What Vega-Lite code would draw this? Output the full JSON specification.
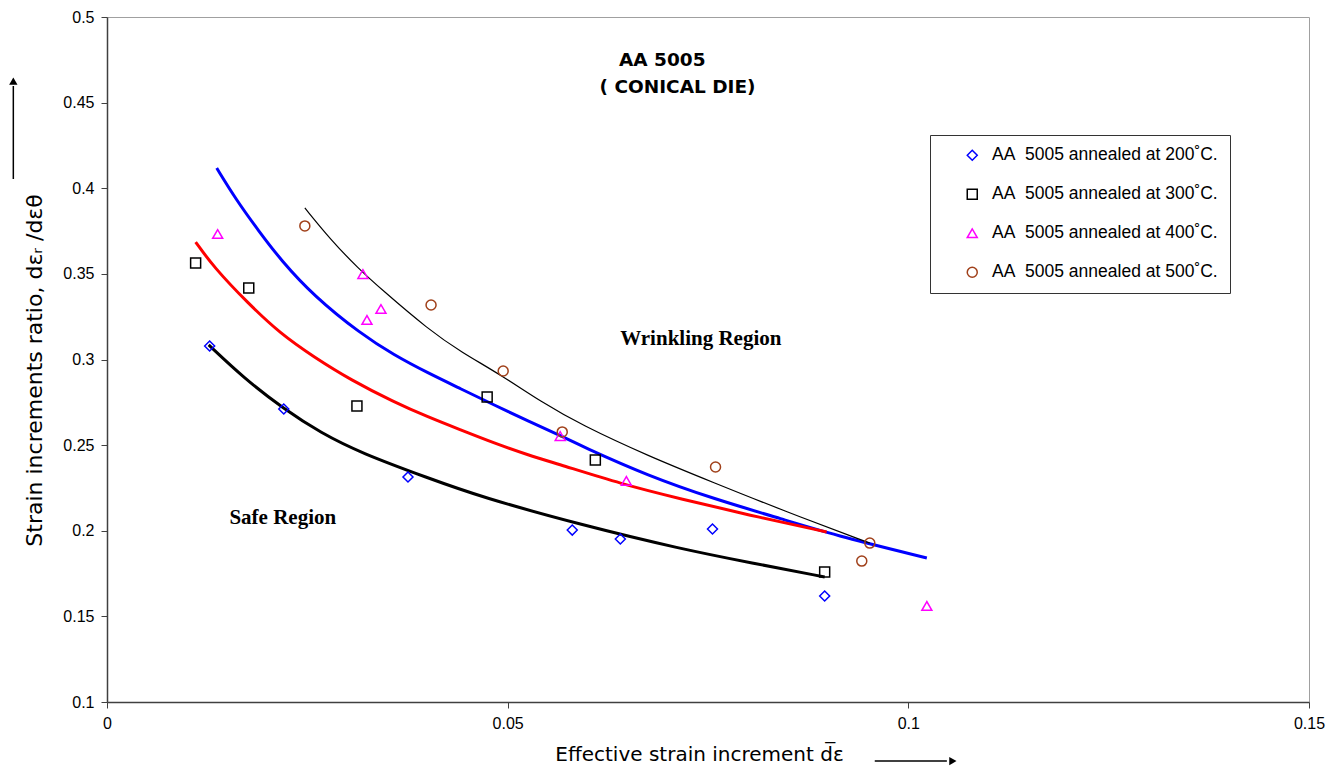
{
  "$schema": "https://vega.github.io/schema/vega-lite/v6.json",
  "width": 1202,
  "height": 685,
  "autosize": {"type": "none"},
  "padding": {"left": 107, "top": 17, "right": 28, "bottom": 67},
  "background": "white",
  "config": {
    "view": {"stroke": "#a0a0a0", "strokeWidth": 1},
    "font": "Liberation Sans",
    "axis": {
      "grid": false,
      "domainColor": "#404040",
      "domainWidth": 1.5,
      "tickColor": "#404040",
      "tickSize": 6,
      "labelFont": "Liberation Sans",
      "labelFontSize": 16,
      "labelColor": "black",
      "labelPadding": 7,
      "labelFlush": false,
      "titleFont": "DejaVu Sans",
      "titleFontSize": 20,
      "titleFontWeight": "normal",
      "titleColor": "black"
    },
    "legend": {
      "orient": "none",
      "legendX": 823,
      "legendY": 118,
      "strokeColor": "#333333",
      "fillColor": "white",
      "padding": 11.5,
      "symbolOffset": 22,
      "labelOffset": 11,
      "rowPadding": 20,
      "labelLimit": 0,
      "labelFont": "Liberation Sans",
      "labelFontSize": 17.5,
      "labelColor": "black",
      "symbolSize": 100,
      "symbolStrokeWidth": 1.5,
      "symbolFillColor": "transparent"
    }
  },
  "datasets": {
    "points": [
      {"series": "AA\u00a0 5005 annealed at 200˚C.", "x": 0.01281, "y": 0.3079},
      {"series": "AA\u00a0 5005 annealed at 200˚C.", "x": 0.02206, "y": 0.2711},
      {"series": "AA\u00a0 5005 annealed at 200˚C.", "x": 0.03756, "y": 0.2314},
      {"series": "AA\u00a0 5005 annealed at 200˚C.", "x": 0.05806, "y": 0.2004},
      {"series": "AA\u00a0 5005 annealed at 200˚C.", "x": 0.06406, "y": 0.1952},
      {"series": "AA\u00a0 5005 annealed at 200˚C.", "x": 0.07556, "y": 0.2010},
      {"series": "AA\u00a0 5005 annealed at 200˚C.", "x": 0.08956, "y": 0.1619},
      {"series": "AA\u00a0 5005 annealed at 300˚C.", "x": 0.01106, "y": 0.3563},
      {"series": "AA\u00a0 5005 annealed at 300˚C.", "x": 0.01769, "y": 0.3418},
      {"series": "AA\u00a0 5005 annealed at 300˚C.", "x": 0.03119, "y": 0.2728},
      {"series": "AA\u00a0 5005 annealed at 300˚C.", "x": 0.04744, "y": 0.2781},
      {"series": "AA\u00a0 5005 annealed at 300˚C.", "x": 0.06094, "y": 0.2413},
      {"series": "AA\u00a0 5005 annealed at 300˚C.", "x": 0.08956, "y": 0.1759},
      {"series": "AA\u00a0 5005 annealed at 400˚C.", "x": 0.01381, "y": 0.3733},
      {"series": "AA\u00a0 5005 annealed at 400˚C.", "x": 0.03194, "y": 0.3499},
      {"series": "AA\u00a0 5005 annealed at 400˚C.", "x": 0.03244, "y": 0.3231},
      {"series": "AA\u00a0 5005 annealed at 400˚C.", "x": 0.03419, "y": 0.3295},
      {"series": "AA\u00a0 5005 annealed at 400˚C.", "x": 0.05656, "y": 0.2553},
      {"series": "AA\u00a0 5005 annealed at 400˚C.", "x": 0.06481, "y": 0.2291},
      {"series": "AA\u00a0 5005 annealed at 400˚C.", "x": 0.10231, "y": 0.1561},
      {"series": "AA\u00a0 5005 annealed at 500˚C.", "x": 0.02469, "y": 0.3780},
      {"series": "AA\u00a0 5005 annealed at 500˚C.", "x": 0.04044, "y": 0.3318},
      {"series": "AA\u00a0 5005 annealed at 500˚C.", "x": 0.04944, "y": 0.2933},
      {"series": "AA\u00a0 5005 annealed at 500˚C.", "x": 0.05681, "y": 0.2577},
      {"series": "AA\u00a0 5005 annealed at 500˚C.", "x": 0.07594, "y": 0.2372},
      {"series": "AA\u00a0 5005 annealed at 500˚C.", "x": 0.09419, "y": 0.1823},
      {"series": "AA\u00a0 5005 annealed at 500˚C.", "x": 0.09519, "y": 0.1928}
    ],
    "curves": [
      {"curve": "trend400", "x": 0.01369, "y": 0.4118},
      {"curve": "trend400", "x": 0.01606, "y": 0.3937},
      {"curve": "trend400", "x": 0.01894, "y": 0.3750},
      {"curve": "trend400", "x": 0.02169, "y": 0.3581},
      {"curve": "trend400", "x": 0.02581, "y": 0.3371},
      {"curve": "trend400", "x": 0.03169, "y": 0.3149},
      {"curve": "trend400", "x": 0.03581, "y": 0.3026},
      {"curve": "trend400", "x": 0.04006, "y": 0.2921},
      {"curve": "trend400", "x": 0.04419, "y": 0.2828},
      {"curve": "trend400", "x": 0.04831, "y": 0.2734},
      {"curve": "trend400", "x": 0.05256, "y": 0.2641},
      {"curve": "trend400", "x": 0.05669, "y": 0.2553},
      {"curve": "trend400", "x": 0.05919, "y": 0.2495},
      {"curve": "trend400", "x": 0.06756, "y": 0.2320},
      {"curve": "trend400", "x": 0.07581, "y": 0.2185},
      {"curve": "trend400", "x": 0.08419, "y": 0.2069},
      {"curve": "trend400", "x": 0.09169, "y": 0.1963},
      {"curve": "trend400", "x": 0.10231, "y": 0.1841},
      {"curve": "trend300", "x": 0.01106, "y": 0.3686},
      {"curve": "trend300", "x": 0.01331, "y": 0.3540},
      {"curve": "trend300", "x": 0.01756, "y": 0.3330},
      {"curve": "trend300", "x": 0.02169, "y": 0.3149},
      {"curve": "trend300", "x": 0.02581, "y": 0.3015},
      {"curve": "trend300", "x": 0.03044, "y": 0.2880},
      {"curve": "trend300", "x": 0.03581, "y": 0.2752},
      {"curve": "trend300", "x": 0.04006, "y": 0.2664},
      {"curve": "trend300", "x": 0.04419, "y": 0.2588},
      {"curve": "trend300", "x": 0.04831, "y": 0.2512},
      {"curve": "trend300", "x": 0.05256, "y": 0.2442},
      {"curve": "trend300", "x": 0.05669, "y": 0.2384},
      {"curve": "trend300", "x": 0.06419, "y": 0.2273},
      {"curve": "trend300", "x": 0.07169, "y": 0.2185},
      {"curve": "trend300", "x": 0.08006, "y": 0.2092},
      {"curve": "trend300", "x": 0.08981, "y": 0.1993},
      {"curve": "trend200", "x": 0.01269, "y": 0.3085},
      {"curve": "trend200", "x": 0.01706, "y": 0.2892},
      {"curve": "trend200", "x": 0.02206, "y": 0.2711},
      {"curve": "trend200", "x": 0.02669, "y": 0.2571},
      {"curve": "trend200", "x": 0.03169, "y": 0.2454},
      {"curve": "trend200", "x": 0.04006, "y": 0.2308},
      {"curve": "trend200", "x": 0.04669, "y": 0.2197},
      {"curve": "trend200", "x": 0.05919, "y": 0.2034},
      {"curve": "trend200", "x": 0.07169, "y": 0.1893},
      {"curve": "trend200", "x": 0.08044, "y": 0.1812},
      {"curve": "trend200", "x": 0.08956, "y": 0.1730},
      {"curve": "trend500", "x": 0.02469, "y": 0.3885},
      {"curve": "trend500", "x": 0.02794, "y": 0.3698},
      {"curve": "trend500", "x": 0.03131, "y": 0.3534},
      {"curve": "trend500", "x": 0.03419, "y": 0.3412},
      {"curve": "trend500", "x": 0.04019, "y": 0.3172},
      {"curve": "trend500", "x": 0.04419, "y": 0.3044},
      {"curve": "trend500", "x": 0.04919, "y": 0.2909},
      {"curve": "trend500", "x": 0.05419, "y": 0.2752},
      {"curve": "trend500", "x": 0.05919, "y": 0.2618},
      {"curve": "trend500", "x": 0.06756, "y": 0.2436},
      {"curve": "trend500", "x": 0.07581, "y": 0.2279},
      {"curve": "trend500", "x": 0.08419, "y": 0.2121},
      {"curve": "trend500", "x": 0.09519, "y": 0.1928}
    ],
    "headings": [
      {"text": "AA 5005", "x": 0.0693, "y": 0.4749},
      {"text": "( CONICAL DIE)", "x": 0.0712, "y": 0.4591}
    ],
    "regions": [
      {"text": "Wrinkling Region", "x": 0.0741, "y": 0.3120},
      {"text": "Safe Region", "x": 0.02194, "y": 0.2074}
    ],
    "arrowShafts": [
      {"axis": "y", "x": -0.01169, "y": 0.4054, "x2": -0.01169, "y2": 0.4597},
      {"axis": "x", "x": 0.09581, "y": 0.0655, "x2": 0.10481, "y2": 0.0655}
    ],
    "arrowHeadsUp": [
      {"x": -0.01169, "y": 0.4626}
    ],
    "arrowHeadsRight": [
      {"x": 0.10556, "y": 0.0655}
    ]
  },
  "encoding": {
    "x": {
      "field": "x",
      "type": "quantitative",
      "scale": {"domain": [0, 0.15], "nice": false, "zero": false},
      "axis": {
        "values": [0, 0.05, 0.1, 0.15],
        "format": ".2~f",
        "title": "Effective strain increment  d\u0305\u03b5",
        "titlePadding": 13,
        "titleX": 592
      }
    },
    "y": {
      "field": "y",
      "type": "quantitative",
      "scale": {"domain": [0.1, 0.5], "nice": false, "zero": false},
      "axis": {
        "values": [0.1, 0.15, 0.2, 0.25, 0.3, 0.35, 0.4, 0.45, 0.5],
        "format": ".2~f",
        "title": "Strain increments ratio, d\u03b5\u1d63 /d\u03b5\u03b8",
        "titleFontSize": 22,
        "titlePadding": 16,
        "titleY": 353
      }
    }
  },
  "layer": [
    {
      "data": {"name": "curves"},
      "transform": [{"filter": "datum.curve === 'trend400'"}],
      "mark": {"type": "line", "color": "#0000FF", "strokeWidth": 3, "interpolate": "basis"}
    },
    {
      "data": {"name": "curves"},
      "transform": [{"filter": "datum.curve === 'trend300'"}],
      "mark": {"type": "line", "color": "#FF0000", "strokeWidth": 3, "interpolate": "basis"}
    },
    {
      "data": {"name": "curves"},
      "transform": [{"filter": "datum.curve === 'trend200'"}],
      "mark": {"type": "line", "color": "#000000", "strokeWidth": 3, "interpolate": "basis"}
    },
    {
      "data": {"name": "curves"},
      "transform": [{"filter": "datum.curve === 'trend500'"}],
      "mark": {"type": "line", "color": "#000000", "strokeWidth": 1.2, "interpolate": "basis"}
    },
    {
      "data": {"name": "points"},
      "mark": {"type": "point", "filled": false, "strokeWidth": 1.5, "size": 100, "opacity": 1},
      "encoding": {
        "color": {
          "field": "series",
          "type": "nominal",
          "scale": {"range": ["#0000FF", "#000000", "#FF00FF", "#A0401A"]},
          "legend": {"title": null}
        },
        "shape": {
          "field": "series",
          "type": "nominal",
          "scale": {"range": ["diamond", "square", "triangle-up", "circle"]},
          "legend": {"title": null}
        }
      }
    },
    {
      "data": {"name": "headings"},
      "mark": {"type": "text", "font": "DejaVu Sans", "fontSize": 18.5, "fontWeight": "bold", "color": "black", "align": "center", "baseline": "middle"},
      "encoding": {"text": {"field": "text"}}
    },
    {
      "data": {"name": "regions"},
      "mark": {"type": "text", "font": "Liberation Serif", "fontSize": 21, "fontWeight": "bold", "color": "black", "align": "center", "baseline": "middle"},
      "encoding": {"text": {"field": "text"}}
    },
    {
      "data": {"name": "arrowShafts"},
      "mark": {"type": "rule", "color": "black", "strokeWidth": 1.5},
      "encoding": {
        "x2": {"field": "x2"},
        "y2": {"field": "y2"}
      }
    },
    {
      "data": {"name": "arrowHeadsUp"},
      "mark": {"type": "point", "shape": "triangle-up", "filled": true, "color": "black", "size": 70, "opacity": 1}
    },
    {
      "data": {"name": "arrowHeadsRight"},
      "mark": {"type": "point", "shape": "triangle-right", "filled": true, "color": "black", "size": 70, "opacity": 1}
    }
  ]
}
